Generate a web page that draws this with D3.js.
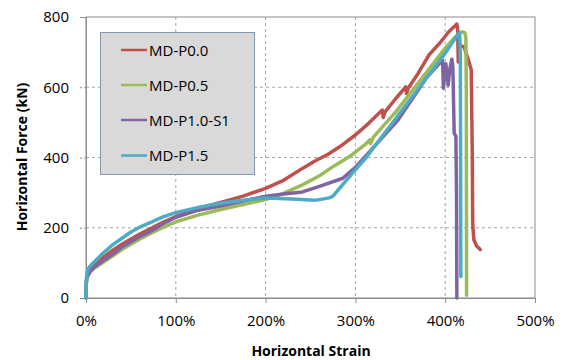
<!DOCTYPE html>
<html>
<head>
<meta charset="utf-8">
<script src="https://cdn.jsdelivr.net/npm/d3@7/dist/d3.min.js"></script>
<style>
  html, body { margin: 0; padding: 0; background: #fff; }
  svg { display: block; }
  text { font-family: "Open Sans", "Liberation Sans", sans-serif; fill: #000; }
</style>
</head>
<body>
<svg id="chart" width="565" height="360"></svg>
<script>
// ---- data (strain in %, force in kN) ----
const seriesNames = ["MD-P0.0", "MD-P0.5", "MD-P1.0-S1", "MD-P1.5"];
const seriesColors = ["#c0504d", "#9bbb59", "#8064a2", "#4bacc6"];

const strainP00 = [0, 0.3, 1, 5, 10, 20, 30, 40, 50, 60, 72, 85, 100, 125, 150, 175, 200, 220, 241, 255, 270, 285, 300, 315, 330, 331, 333, 345, 356, 357, 359, 370, 382, 394, 404, 411, 413, 414, 414.5, 415, 417, 421, 427, 429, 430.2, 430.6, 431, 432, 435, 438, 439];
const forceP00  = [0, 40, 62, 82, 95, 117, 136, 153, 168, 182, 198, 215, 232, 255, 272, 290, 312, 335, 369, 390, 410, 435, 464, 498, 535, 514, 530, 568, 601, 582, 598, 640, 692, 726, 758, 775, 780, 760, 672, 720, 718, 715, 668, 649, 400, 220, 195, 165, 148, 141, 138];

const strainP05 = [0, 0.3, 1, 5, 10, 20, 30, 40, 50, 60, 72, 85, 100, 125, 150, 175, 200, 220, 241, 260, 275, 293, 310, 316, 317, 320, 345, 370, 401, 410, 415, 419, 422, 423, 423.5, 423.7, 423.8];
const forceP05  = [0, 40, 58, 75, 86, 103, 120, 138, 153, 168, 184, 200, 217, 236, 252, 266, 280, 298, 322, 348, 374, 402, 435, 450, 440, 458, 530, 612, 715, 740, 752, 758, 755, 740, 600, 200, 8];

const strainP10 = [0, 0.3, 1, 5, 10, 20, 30, 40, 50, 60, 72, 85, 100, 125, 150, 175, 200, 220, 241, 260, 286, 290, 300, 347, 380, 395, 397, 398, 399.5, 400.7, 403.3, 405, 407.4, 408.5, 410, 411.9, 412.6, 413];
const forceP10  = [0, 40, 60, 78, 90, 108, 125, 145, 160, 175, 190, 210, 230, 250, 262, 276, 290, 296, 302, 318, 341, 350, 372, 505, 630, 672, 677, 597, 640, 667, 606, 650, 680, 660, 469, 460, 300, 0];

const strainP15 = [0, 0.3, 1, 3, 5, 10, 20, 30, 40, 50, 60, 72, 85, 100, 125, 150, 175, 200, 230, 255, 271, 275, 297, 312, 347, 386, 400, 410, 416, 416.8, 417.2, 417.4];
const forceP15  = [0, 45, 70, 85, 92, 105, 130, 152, 170, 188, 202, 215, 230, 243, 258, 270, 278, 285, 282, 278, 285, 290, 356, 400, 518, 650, 697, 735, 756, 700, 400, 61];

const xTicks = [0, 100, 200, 300, 400, 500];
const yTicks = [0, 200, 400, 600, 800];
const xTitle = "Horizontal Strain";
const yTitle = "Horizontal Force (kN)";

const seriesStrain = [strainP00, strainP05, strainP10, strainP15];
const seriesForce = [forceP00, forceP05, forceP10, forceP15];

// ---- layout ----
const svg = d3.select("#chart");
const L = 86, R = 535, T = 17, B = 298;
const x = d3.scaleLinear().domain([0, 500]).range([L, R]);
const y = d3.scaleLinear().domain([0, 800]).range([B, T]);
const axisColor = "#8c8c8c";

// gridlines
const grid = svg.append("g");
grid.selectAll("line.gy").data(yTicks.filter(d => d > 0 && d < 800)).enter().append("line")
  .attr("x1", L).attr("x2", R).attr("y1", d => y(d)).attr("y2", d => y(d))
  .attr("stroke", "#a6a6a6").attr("stroke-width", 1).attr("stroke-dasharray", "3,3");
grid.selectAll("line.gx").data(xTicks.filter(d => d > 0 && d < 500)).enter().append("line")
  .attr("y1", T).attr("y2", B).attr("x1", d => x(d)).attr("x2", d => x(d))
  .attr("stroke", "#a6a6a6").attr("stroke-width", 1).attr("stroke-dasharray", "3,3");

// frame
svg.append("rect").attr("x", L).attr("y", T).attr("width", R - L).attr("height", B - T)
  .attr("fill", "none").attr("stroke", axisColor).attr("stroke-width", 1);

// axes
const yAxis = d3.axisLeft(y).tickValues(yTicks).tickSize(6).tickPadding(11).tickFormat(d3.format("d"));
const gy = svg.append("g").attr("transform", `translate(${L},0)`).call(yAxis);
gy.select(".domain").attr("stroke", axisColor);
gy.selectAll(".tick line").attr("stroke", axisColor).attr("stroke-dasharray", "2,2");
gy.selectAll(".tick text").attr("font-size", 15).attr("font-family", "Open Sans").attr("fill", "#000");

const xAxis = d3.axisBottom(x).tickValues(xTicks).tickSize(5).tickPadding(12).tickFormat(d => d + "%");
const gx = svg.append("g").attr("transform", `translate(0,${B})`).call(xAxis);
gx.select(".domain").attr("stroke", axisColor);
gx.selectAll(".tick line").attr("stroke", axisColor);
gx.selectAll(".tick text").attr("font-size", 15).attr("font-family", "Open Sans").attr("fill", "#000");

// lines
const line = d3.line().x(d => x(d[0])).y(d => y(d[1]));
seriesNames.forEach((name, i) => {
  const pts = seriesStrain[i].map((s, j) => [s, seriesForce[i][j]]);
  svg.append("path").datum(pts).attr("d", line)
    .attr("fill", "none").attr("stroke", seriesColors[i]).attr("stroke-width", 3.5)
    .attr("stroke-linejoin", "round").attr("stroke-linecap", "round");
});

// titles
svg.append("text").attr("x", 311).attr("y", 356).attr("text-anchor", "middle")
  .attr("font-size", 14).attr("font-weight", "bold").text(xTitle);
svg.append("text").attr("transform", "translate(27,157) rotate(-90)").attr("text-anchor", "middle")
  .attr("font-size", 14).attr("font-weight", "bold").text(yTitle);

// legend
const lg = svg.append("g");
lg.append("rect").attr("x", 100.5).attr("y", 32.5).attr("width", 154).attr("height", 142)
  .attr("fill", "#d9d9d9").attr("stroke", "#8497b0").attr("stroke-width", 1);
const rowY = [50, 85, 120, 155.5];
seriesNames.forEach((name, i) => {
  lg.append("line").attr("x1", 121).attr("x2", 147).attr("y1", rowY[i]).attr("y2", rowY[i])
    .attr("stroke", seriesColors[i]).attr("stroke-width", 2.5);
  lg.append("text").attr("x", 149).attr("y", rowY[i] + 5.5).attr("font-size", 15).text(name);
});
</script>
</body>
</html>
